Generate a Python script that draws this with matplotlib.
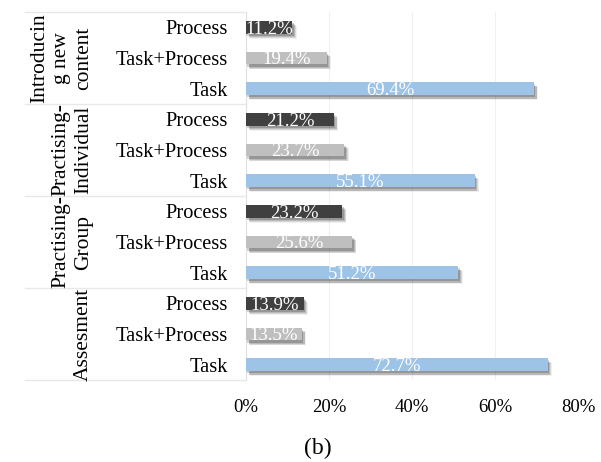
import matplotlib
matplotlib.use("Agg")
import matplotlib.pyplot as plt
import matplotlib.patheffects as pe
from matplotlib.transforms import blended_transform_factory
from matplotlib.lines import Line2D

plt.rcParams['font.family'] = ['Liberation Serif', 'DejaVu Serif']

groups = ["Introducin\ng new\ncontent", "Practising-\nIndividual", "Practising-\nGroup", "Assesment"]
categories = ["Process", "Task+Process", "Task"]
process = [11.2, 21.2, 23.2, 13.9]
task_process = [19.4, 23.7, 25.6, 13.5]
task = [69.4, 55.1, 51.2, 72.7]
xticks = [0, 20, 40, 60, 80]
xtick_labels = ["0%", "20%", "40%", "60%", "80%"]
caption = "(b)"

colors = {"Process": "#404040", "Task+Process": "#BFBFBF", "Task": "#9DC3E6"}

fig = plt.figure(figsize=(6.01, 4.62), dpi=100)
ax = fig.add_axes([246/601, 1-380/462, (578-246)/601, (380-12)/462])

series = {"Process": process, "Task+Process": task_process, "Task": task}
ylabels = []
ypos = []
shadow = [pe.SimplePatchShadow(offset=(3.0, -3.5), shadow_rgbFace='#000000', alpha=0.06),
          pe.SimplePatchShadow(offset=(2.5, -3.0), shadow_rgbFace='#000000', alpha=0.10),
          pe.SimplePatchShadow(offset=(2.0, -2.5), shadow_rgbFace='#000000', alpha=0.14),
          pe.SimplePatchShadow(offset=(1.0, -1.5), shadow_rgbFace='#000000', alpha=0.18),
          pe.Normal()]
for g in range(len(groups)):
    for c, cat in enumerate(categories):
        y = g * 3 + c
        v = series[cat][g]
        ax.barh(y, v, height=0.42, color=colors[cat], path_effects=shadow, zorder=3)
        ax.text(v / 2, y + 0.06, f"{v:.1f}%", ha='center', va='center', color='white',
                fontsize=13.5, zorder=4)
        ylabels.append(cat)
        ypos.append(y)

ax.set_ylim(11.5, -0.5)
ax.set_xlim(0, 80)
ax.set_yticks(ypos)
ax.set_yticklabels(ylabels, fontsize=14.7)
ax.set_xticks(xticks)
ax.set_xticklabels(xtick_labels, fontsize=13.5)
ax.tick_params(axis='y', length=0, pad=13)
ax.tick_params(axis='x', length=0, pad=14)
ax.grid(axis='x', color='#F0F0F0', linewidth=0.8, zorder=0)
for s in ['top', 'right', 'bottom']:
    ax.spines[s].set_visible(False)
ax.spines['left'].set_color('#E0E0E0')
ax.spines['left'].set_linewidth(0.8)

bt = blended_transform_factory(fig.transFigure, ax.transData)
for b in [-0.5, 2.5, 5.5, 8.5, 11.5]:
    fig.add_artist(Line2D([25/601, 246/601], [b, b], transform=bt, color='#E8E8E8',
                          linewidth=1.0, clip_on=False))
for g, name in enumerate(groups):
    fig.text(93/601, g * 3 + 1, name, transform=bt, rotation=90, ha='right', va='center',
             multialignment='center', fontsize=15.5, linespacing=1.22)

fig.text(318/601, 1-448/462, caption, ha='center', va='center', fontsize=17)

fig.savefig("out.png", dpi=100)
